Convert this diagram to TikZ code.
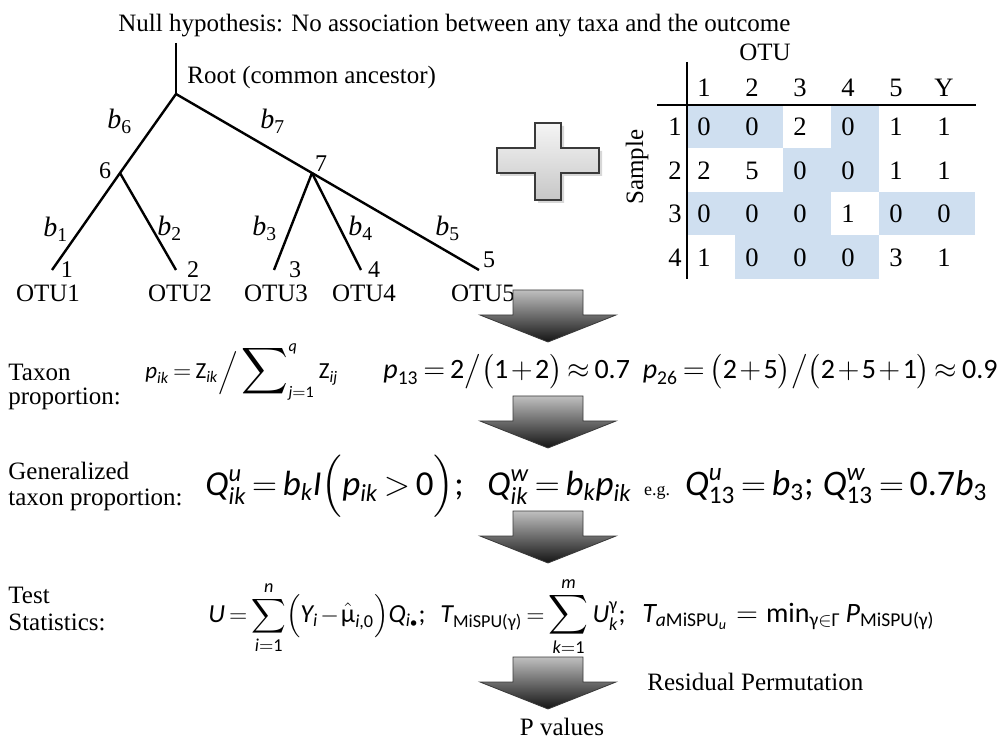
\documentclass[tikz,border=0pt]{standalone}
\usepackage{amsmath}
\usepackage{fontspec}
\setmainfont{Liberation Serif}
\newfontfamily\calib{Carlito}

% colours
\definecolor{cellBlue}{HTML}{CFDFF0}
\definecolor{edgeGray}{HTML}{3A3A3A}

% Carlito letters inside formulas
\newcommand\ci[1]{\text{\calib\itshape #1}}
\newcommand\cu[1]{\text{\calib #1}}
\newcommand\tight{\thickmuskip=3mu \medmuskip=1.5mu}

% big grey flow arrow, #1 = top of the stem
\newcommand\flowarrow[1]{%
  \shade[top color=black!25, bottom color=black!92, draw=edgeGray, line width=0.4pt]
    (513,#1) -- (583,#1) -- (583,{#1+25}) -- (616,{#1+25}) -- (548,{#1+52})
    -- (480,{#1+25}) -- (513,{#1+25}) -- cycle;}

\begin{document}
\begin{tikzpicture}[x=0.5pt, y=-0.5pt,
  txt/.style={font=\fontsize{12.5}{15}\selectfont, inner sep=0pt, anchor=base west},
  blab/.style={font=\fontsize{14}{16}\selectfont, inner sep=0pt, anchor=base west},
  num/.style={font=\fontsize{12}{14}\selectfont, inner sep=0pt},
  cell/.style={font=\fontsize{13.3}{16}\selectfont, inner sep=0pt},
  fml/.style={inner sep=0pt, anchor=base west},
  branch/.style={line width=1.2pt},
  rule/.style={line width=0.6pt}]

\useasboundingbox (0,0) rectangle (1002,743);

% Titolo
\node[txt] (title) at (118,32) {Null hypothesis: No association between any taxa and the outcome};

% Albero
\coordinate (top) at (176,43);
\coordinate (root) at (176,94);
\coordinate (n6) at (120,173);
\coordinate (n7) at (312,173);
\coordinate (l1) at (52,270);
\coordinate (l2) at (176,270);
\coordinate (l3) at (274,270);
\coordinate (l4) at (361,270);
\coordinate (l5) at (479,270);

\draw[branch] (top) -- (root);
\draw[branch] (root) -- (n6) -- (l1);
\draw[branch] (n6) -- (l2);
\draw[branch] (root) -- (n7) -- (l5);
\draw[branch] (n7) -- (l3);
\draw[branch] (n7) -- (l4);

\node[txt] (rootlab) at (187,84) {Root (common ancestor)};

% lunghezze dei rami
\node[blab] (b6) at (107,129) {\textit{b}\textsubscript{6}};
\node[blab] (b7) at (260,129) {\textit{b}\textsubscript{7}};
\node[blab] (b1) at (43,237) {\textit{b}\textsubscript{1}};
\node[blab] (b2) at (157,236) {\textit{b}\textsubscript{2}};
\node[blab] (b3) at (252,236) {\textit{b}\textsubscript{3}};
\node[blab] (b4) at (348,236) {\textit{b}\textsubscript{4}};
\node[blab] (b5) at (435,236) {\textit{b}\textsubscript{5}};

% numeri dei nodi
\node[num] (k6) at (105,171) {6};
\node[num] (k7) at (321,164) {7};
\node[num] (k1) at (67,270) {1};
\node[num] (k2) at (193,270) {2};
\node[num] (k3) at (295,270) {3};
\node[num] (k4) at (374,270) {4};
\node[num] (k5) at (489,260) {5};

% OTU
\node[txt, anchor=base] (otu1) at (48,302) {OTU1};
\node[txt, anchor=base] (otu2) at (180,302) {OTU2};
\node[txt, anchor=base] (otu3) at (276,302) {OTU3};
\node[txt, anchor=base] (otu4) at (364,302) {OTU4};
\node[txt, anchor=base] (otu5) at (483,302) {OTU5};

% Segno piu'
\fill[black!35, opacity=0.45] (538,126) -- (564,126) -- (564,151) -- (602,151) -- (602,176)
  -- (564,176) -- (564,203) -- (538,203) -- (538,176) -- (500,176) -- (500,151) -- (538,151) -- cycle;
\shade[top color=black!4, bottom color=black!22, draw=edgeGray, line width=0.6pt]
  (535,123) -- (561,123) -- (561,148) -- (599,148) -- (599,173) -- (561,173) -- (561,200)
  -- (535,200) -- (535,173) -- (497,173) -- (497,148) -- (535,148) -- cycle;

% Tabella
\foreach \vals [count=\r] in {{0,0,2,0,1,1},{2,5,0,0,1,1},{0,0,0,1,0,0},{1,0,0,0,3,1}} {
  \foreach \v [count=\c] in \vals {
    \ifnum\v=0
      \fill[cellBlue] ({687+48*(\c-1)},{105+43.5*(\r-1)}) rectangle ({735+48*(\c-1)},{148.5+43.5*(\r-1)});
    \fi
    \node[cell] (v\r\c) at ({704+48*(\c-1)},{127+43.5*(\r-1)}) {\v};
  }
}
\foreach \h [count=\c] in {1,2,3,4,5,Y}
  \node[cell] (h\c) at ({704+48*(\c-1)},88) {\h};
\foreach \r in {1,...,4}
  \node[cell] (s\r) at (675,{127+43.5*(\r-1)}) {\r};

\draw[rule] (687,62) -- (687,279);
\draw[rule] (657,105) -- (976,105);

\node[txt, anchor=center] (otuhead) at (765,52) {OTU};
\node[txt, anchor=center, rotate=90] (sample) at (637,167) {Sample};

% Frecce
\flowarrow{290}
\flowarrow{396}
\flowarrow{511}
\flowarrow{657}

% Proporzione
\node[txt] (lab1a) at (8,380) {Taxon};
\node[txt] (lab1b) at (8,405) {proportion:};
\node[fml, font=\fontsize{11.5}{13}\selectfont] (f1a) at (145,379)
  {$\tight\ci{p}_{\ci{ik}} = \cu{Z}_{\ci{ik}}\Big/\mathop{\scalebox{1.35}{$\displaystyle\sum$}}\nolimits_{\ci{j}=\cu{1}}^{\ci{q}}\cu{Z}_{\ci{ij}}$};
\node[fml, font=\fontsize{14}{17}\selectfont] (f1b) at (383,379)
  {$\tight\ci{p}_{\cu{13}} = \cu{2}\big/\big(\cu{1}+\cu{2}\big) \approx \cu{0.7}$};
\node[fml, font=\fontsize{14}{17}\selectfont, anchor=base east] (f1c) at (998,379)
  {$\tight\ci{p}_{\cu{26}} = \big(\cu{2}+\cu{5}\big)\big/\big(\cu{2}+\cu{5}+\cu{1}\big) \approx \cu{0.9}$};

% Proporzione generalizzata
\node[txt] (lab2a) at (8,480) {Generalized};
\node[txt] (lab2b) at (8,505) {taxon proportion:};
\node[fml, font=\fontsize{17.5}{21}\selectfont] (f2a) at (205,495)
  {$\tight\ci{Q}^{\ci{u}}_{\ci{ik}} = \ci{b}_{\ci{k}}\ci{I}\Big(\ci{p}_{\ci{ik}} > \cu{0}\Big)\cu{;}$};
\node[fml, font=\fontsize{17.5}{21}\selectfont] (f2c) at (487,495)
  {$\tight\ci{Q}^{\ci{w}}_{\ci{ik}} = \ci{b}_{\ci{k}}\ci{p}_{\ci{ik}}$};
\node[fml, font=\fontsize{9}{11}\selectfont] (eg) at ([xshift=6pt]f2c.base east) {e.g.};
\node[fml, font=\fontsize{18}{21}\selectfont] (f2b) at ([xshift=7pt]eg.base east)
  {$\tight\ci{Q}^{\ci{u}}_{\cu{13}} = \ci{b}_{\cu{3}}\cu{;}\ \ci{Q}^{\ci{w}}_{\cu{13}} = \cu{0.7}\ci{b}_{\cu{3}}$};

% Statistiche
\node[txt] (lab3a) at (8,603) {Test};
\node[txt] (lab3b) at (8,630) {Statistics:};
\node[fml, font=\fontsize{13}{16}\selectfont, anchor=base east] (f3a) at (426,622)
  {$\tight\displaystyle \ci{U} = \sum_{\ci{i}=\cu{1}}^{\ci{n}}\!\Big(\ci{Y}_{\ci{i}} - \hat{\cu{μ}}_{\ci{i}\cu{,0}}\Big)\ci{Q}_{\ci{i}{\scriptscriptstyle\bullet}}\cu{;}$};
\node[fml, font=\fontsize{13}{16}\selectfont] (f3b) at (440,622)
  {$\tight\displaystyle \ci{T}_{\cu{MiSPU(γ)}} = \mathop{\scalebox{1.15}{$\displaystyle\sum$}}_{\ci{k}=\cu{1}}^{\ci{m}}\ci{U}^{\cu{γ}}_{\ci{k}}\cu{;}$};
\node[fml, font=\fontsize{14}{17}\selectfont] (f3c) at ([xshift=8pt]f3b.base east)
  {$\displaystyle \ci{T}_{\ci{a}\cu{MiSPU}_{\ci{u}}} = \cu{min}_{\cu{γ}\in\cu{Γ}}\,\ci{P}_{\cu{MiSPU(γ)}}$};

\node[txt] (resperm) at (647,690) {Residual Permutation};
\node[txt, anchor=base] (pval) at (562,735) {P values};

\end{tikzpicture}
\end{document}
